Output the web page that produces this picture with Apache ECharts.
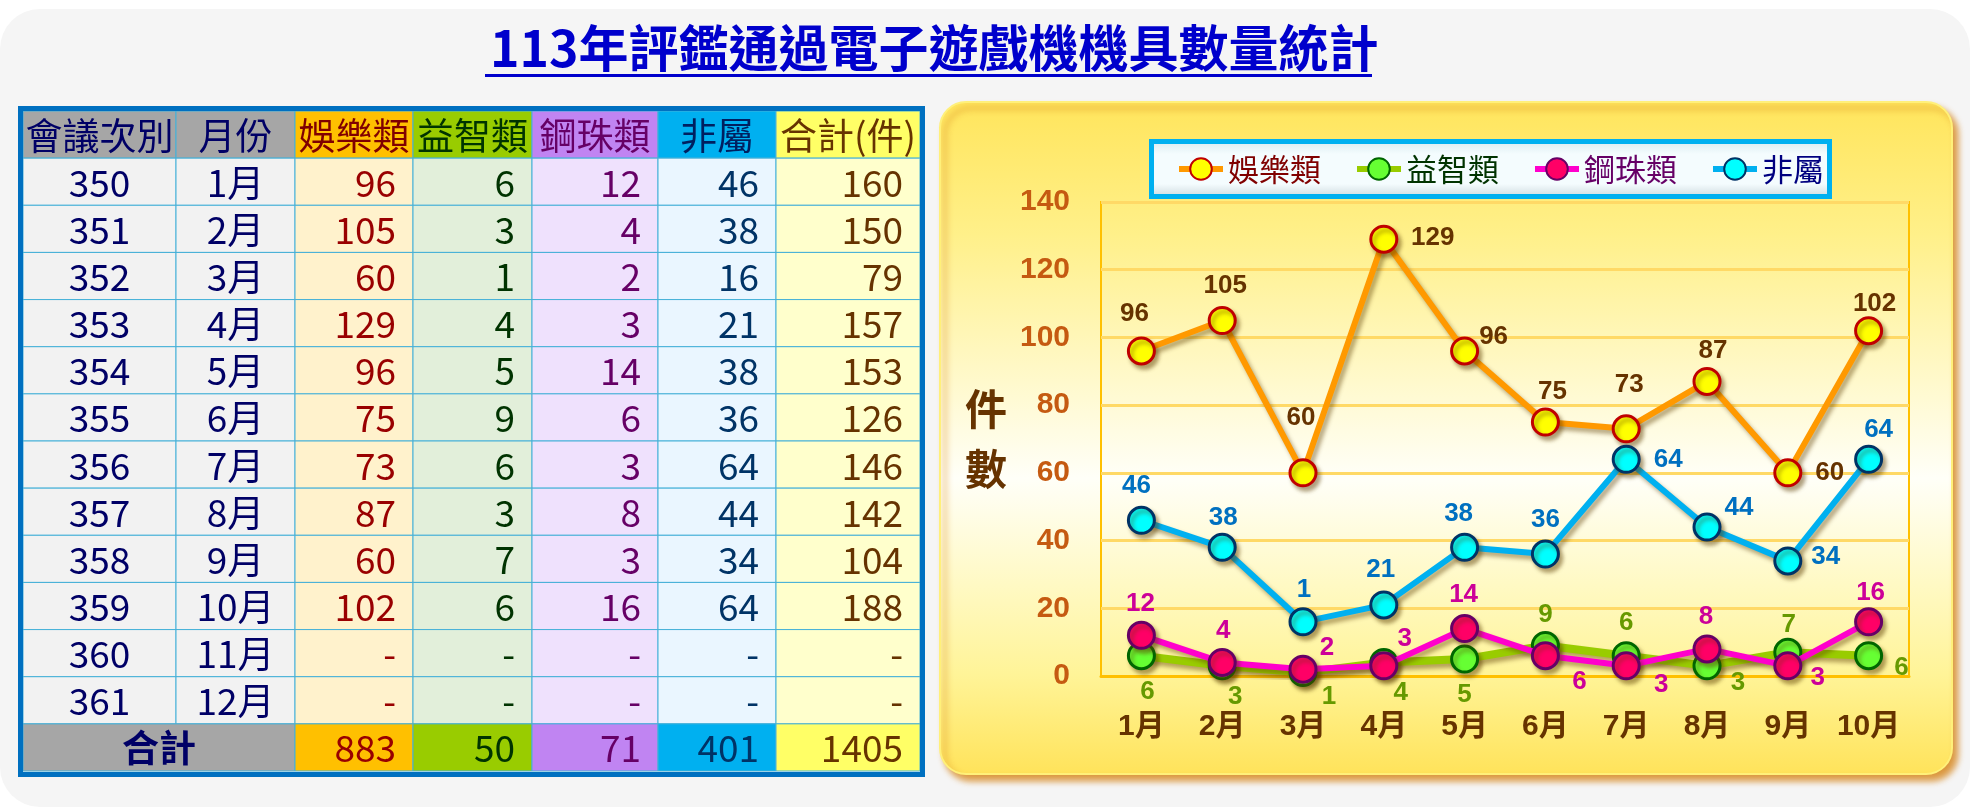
<!DOCTYPE html>
<html>
<head>
<meta charset="utf-8">
<script src="https://cdn.jsdelivr.net/npm/echarts@6/dist/echarts.min.js"></script>
<style>
html,body{margin:0;padding:0;background:#ffffff;}
#chart{width:1987px;height:809px;}
</style>
</head>
<body>
<div id="chart"></div>
<script>
// ---------------- data ----------------
const chartTitle = '113年評鑑通過電子遊戲機機具數量統計';
const chartMonths = ['1月','2月','3月','4月','5月','6月','7月','8月','9月','10月'];
const seriesNames = ['娛樂類','益智類','鋼珠類','非屬'];
const entertainment = [96,105,60,129,96,75,73,87,60,102];
const puzzle = [6,3,1,4,5,9,6,3,7,6];
const pachinko = [12,4,2,3,14,6,3,8,3,16];
const others = [46,38,16,21,38,36,64,44,34,64];
const rowTotals = [160,150,79,157,153,126,146,142,104,188];
const sessions = ['350','351','352','353','354','355','356','357','358','359','360','361'];
const tableMonths = ['1月','2月','3月','4月','5月','6月','7月','8月','9月','10月','11月','12月'];
const tableHeaders = ['會議次別','月份','娛樂類','益智類','鋼珠類','非屬','合計(件)'];
const sumLabel = '合計';
const columnSums = [883,50,71,401,1405];
const yAxisName = '件\n數';
const yMin = 0, yMax = 140, yStep = 20;
// label shown for 非屬 3月 in the reference (clipped "16")
const othersLabelText = ['46','38','1','21','38','36','64','44','34','64'];

// ---------------- styles ----------------
const CJK = "'Noto Sans CJK TC','Noto Sans CJK SC',sans-serif";
const NUM = "'Liberation Sans',Arial,'Noto Sans CJK TC',sans-serif";
const colWeights = [153,119,118,119,126,118,144];
const cum = [0]; colWeights.forEach(w => cum.push(cum[cum.length-1] + w));
const headerBg = ['#A6A6A6','#A6A6A6','#FFC000','#99CC00','#C084F2','#00B0F0','#FFFF66'];
const headerFg = ['#000066','#000066','#800000','#003300','#660066','#002060','#663300'];
const bodyBg = ['#F2F2F2','#F2F2F2','#FFF2CC','#E2EFDA','#EFE1FD','#EAF6FF','#FFFFCC'];
const bodyFg = ['#000066','#000066','#990000','#003300','#660066','#003366','#663300'];

const seriesStyles = [
  {line:'#FF9900', fill:'#FFFF00', border:'#C00000', label:'#663300', width:6, legend:'#800000',
   offsets:[[-7,-37],[3,-35],[-2,-55],[49,-1],[29,-14],[7,-30],[3,-44],[6,-31],[42,0],[6,-27]]},
  {line:'#99CC00', fill:'#66FF33', border:'#006600', label:'#669900', width:8, legend:'#003300',
   offsets:[[6,36],[13,31],[26,24],[17,30],[0,36],[0,-31],[0,-33],[31,17],[1,-27],[33,12]]},
  {line:'#FF00CC', fill:'#FF0066', border:'#660066', label:'#CC0099', width:6, legend:'#660066',
   offsets:[[-1,-32],[1,-32],[24,-21],[21,-27],[-1,-34],[34,26],[35,19],[-1,-32],[30,12],[2,-29]]},
  {line:'#00B0F0', fill:'#00FFFF', border:'#003366', label:'#0070C0', width:6, legend:'#000080',
   offsets:[[-5,-34],[1,-30],[1,-32],[-3,-35],[-6,-34],[0,-34],[42,1],[32,-19],[38,-4],[10,-29]]}
];
const seriesValues = [entertainment, puzzle, pachinko, others];
const seriesLabelTexts = [null, null, null, othersLabelText];

// ---------------- table cells ----------------
const rowKeys = ['header'].concat(sessions).concat(['sum']);
const cells = [];
tableHeaders.forEach((t, c) => cells.push({r:0, c, span:1, text:t, bg:headerBg[c], fg:headerFg[c], align:'center', bold:false}));
tableMonths.forEach((m, i) => {
  const r = i + 1;
  cells.push({r, c:0, span:1, text:sessions[i], bg:bodyBg[0], fg:bodyFg[0], align:'center'});
  cells.push({r, c:1, span:1, text:m, bg:bodyBg[1], fg:bodyFg[1], align:'center'});
  [entertainment[i], puzzle[i], pachinko[i], others[i], rowTotals[i]].forEach((v, k) => {
    cells.push({r, c:k+2, span:1, text:(v == null ? '-' : String(v)), bg:bodyBg[k+2], fg:bodyFg[k+2], align:'right'});
  });
});
cells.push({r:13, c:0, span:2, text:sumLabel, bg:headerBg[0], fg:'#000066', align:'center', bold:true});
columnSums.forEach((v, k) => cells.push({r:13, c:k+2, span:1, text:String(v), bg:headerBg[k+2], fg:bodyFg[k+2], align:'right'}));

// ---------------- chart ----------------
const chart = echarts.init(document.getElementById('chart'));

const lineSeries = seriesNames.map((name, s) => {
  const st = seriesStyles[s];
  const txt = seriesLabelTexts[s];
  return {
    name, type:'line', xAxisIndex:0, yAxisIndex:0, z: 3 + s,
    data: seriesValues[s].map((v, i) => ({value:v, label:{offset:st.offsets[i], formatter: txt ? txt[i] : String(v)}})),
    symbol:'circle', symbolSize:26,
    lineStyle:{color:st.line, width:st.width, shadowColor:'rgba(90,60,0,0.45)', shadowBlur:4, shadowOffsetX:3, shadowOffsetY:4},
    itemStyle:{color:st.fill, borderColor:st.border, borderWidth:3, shadowColor:'rgba(90,60,0,0.45)', shadowBlur:4, shadowOffsetX:3, shadowOffsetY:4},
    label:{show:true, position:'inside', color:st.label, fontSize:26, fontWeight:'bold', fontFamily:NUM},
    emphasis:{disabled:true}
  };
});

const tableSeries = {
  type:'custom', xAxisIndex:1, yAxisIndex:1, z:2,
  encode:{x:0, y:1},
  data: cells.map(cl => [cum[cl.c], cl.r, cum[cl.c + cl.span]]),
  renderItem: function (params, api) {
    const cl = cells[params.dataIndex];
    const p0 = api.coord([api.value(0), api.value(1)]);
    const p1 = api.coord([api.value(2), api.value(1)]);
    const h = api.size([0, 1])[1];
    const x0 = p0[0], x1 = p1[0], yc = p0[1];
    return {
      type:'group',
      children:[
        {type:'rect', shape:{x:x0, y:yc - h/2, width:x1 - x0, height:h},
         style:{fill:cl.bg, stroke:'#45B0D8', lineWidth:1}},
        {type:'text', style:{text:cl.text, x: cl.align === 'center' ? (x0 + x1)/2 : x1 - 17, y: yc + 1,
          align: cl.align, verticalAlign:'middle', fill:cl.fg, fontSize:37,
          fontWeight: cl.bold ? 'bold' : 'normal', fontFamily:CJK}}
      ]
    };
  }
};

const option = {
  animation:false,
  backgroundColor:'#ffffff',
  title:{
    text:chartTitle, left:485, top:18,
    textStyle:{color:'#0000CC', fontSize:50, fontWeight:'bold', fontFamily:CJK}
  },
  graphic:[
    {type:'rect', z:-20, shape:{x:0, y:9, width:1970, height:798, r:40}, style:{fill:'#F5F5F5'}},
    {type:'rect', z:-15, shape:{x:940, y:102, width:1012, height:672, r:26},
     style:{
       fill:{type:'linear', x:0, y:0, x2:0, y2:1, colorStops:[
         {offset:0, color:'#FFE55C'}, {offset:0.2, color:'#FFF08A'}, {offset:0.56, color:'#FFFFF8'},
         {offset:0.85, color:'#FFF498'}, {offset:1, color:'#FFE35A'}]},
       stroke:'#FFF07A', lineWidth:2,
       shadowColor:'rgba(215,135,30,0.85)', shadowBlur:6, shadowOffsetX:5, shadowOffsetY:6
     }},
    {type:'rect', z:-10, shape:{x:1151.5, y:141.5, width:678, height:55},
     style:{
       fill:{type:'linear', x:0, y:0, x2:0, y2:1, colorStops:[
         {offset:0, color:'#D5E9EE'}, {offset:0.25, color:'#F4FCFE'}, {offset:0.75, color:'#F4FCFE'}, {offset:1, color:'#C9D6DA'}]},
       stroke:'#00B0F0', lineWidth:5
     }},
    {type:'rect', z:10, shape:{x:485, y:74, width:887, height:3}, style:{fill:'#0000CC'}},
    {type:'rect', z:10, shape:{x:20.5, y:108.5, width:902, height:666}, style:{fill:'none', stroke:'#0070C0', lineWidth:5}}
  ],
  legend:{
    left:1176, top:152, padding:0, itemWidth:44, itemHeight:27, itemGap:33, selectedMode:false,
    lineStyle:{width:6},
    textStyle:{fontSize:31, fontFamily:CJK, lineHeight:34},
    data: seriesNames.map((n, i) => ({name:n, textStyle:{color:seriesStyles[i].legend}}))
  },
  grid:[
    {left:1101, top:202, width:808, height:474, show:true, borderColor:'#FFC000', borderWidth:2, backgroundColor:'transparent'},
    {left:23, top:111, width:897, height:660}
  ],
  xAxis:[
    {gridIndex:0, type:'category', data:chartMonths, boundaryGap:true,
     axisLine:{show:true, lineStyle:{color:'#FFC000', width:3}}, axisTick:{show:false},
     axisLabel:{interval:0, color:'#663300', fontSize:30, fontWeight:'bold', margin:36, fontFamily:NUM},
     splitLine:{show:false}},
    {gridIndex:1, type:'value', min:0, max:cum[cum.length-1], show:false}
  ],
  yAxis:[
    {gridIndex:0, type:'value', min:yMin, max:yMax, interval:yStep,
     axisLine:{show:false}, axisTick:{show:false},
     axisLabel:{color:'#C55A11', fontSize:30, fontWeight:'bold', margin:31, fontFamily:NUM},
     splitLine:{show:true, lineStyle:{color:'#FFD966', width:3}},
     name:yAxisName, nameLocation:'middle', nameRotate:0, nameGap:94,
     nameTextStyle:{color:'#663300', fontSize:42, fontWeight:'bold', fontFamily:CJK, lineHeight:60}},
    {gridIndex:1, type:'category', data:rowKeys, inverse:true, show:false}
  ],
  series:[tableSeries].concat(lineSeries)
};
chart.setOption(option);
</script>
</body>
</html>
